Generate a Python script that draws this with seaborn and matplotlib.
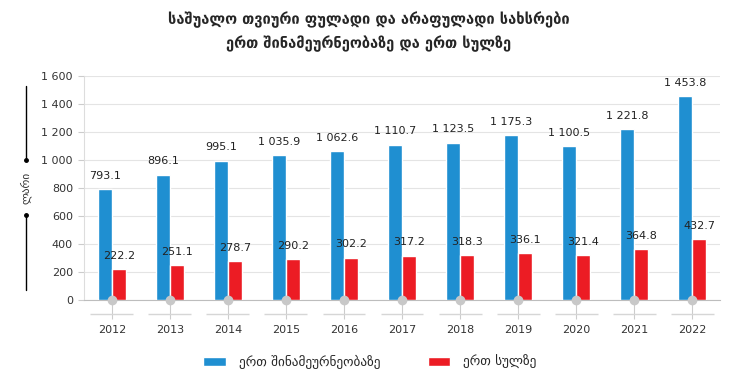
import pandas as pd
import seaborn as sns
import matplotlib.pyplot as plt
from matplotlib.lines import Line2D

years = ['2012', '2013', '2014', '2015', '2016', '2017', '2018', '2019', '2020', '2021', '2022']
per_household = [793.1, 896.1, 995.1, 1035.9, 1062.6, 1110.7, 1123.5, 1175.3, 1100.5, 1221.8, 1453.8]
per_capita = [222.2, 251.1, 278.7, 290.2, 302.2, 317.2, 318.3, 336.1, 321.4, 364.8, 432.7]
series_names = ['ერთ შინამეურნეობაზე', 'ერთ სულზე']
title = 'საშუალო თვიური ფულადი და არაფულადი სახსრები\nერთ შინამეურნეობაზე და ერთ სულზე'
y_label = 'ლარი'
y_ticks = [0, 200, 400, 600, 800, 1000, 1200, 1400, 1600]

df = pd.DataFrame({
    'year': years * 2,
    'value': per_household + per_capita,
    'series': [series_names[0]] * len(years) + [series_names[1]] * len(years),
})


def fmt(v, dec=1):
    s = f'{v:,.{dec}f}'
    return s.replace(',', ' ')


sns.set_style('white')
plt.rcParams['font.family'] = ['DejaVu Sans']

fig = plt.figure(figsize=(7.38, 3.81), dpi=100)
ax = fig.add_axes([84 / 738, 1 - 300 / 381, (720 - 84) / 738, 224 / 381])

colors = ['#1f8fd1', '#ec1c24']
sns.barplot(data=df, x='year', y='value', hue='series', palette=colors,
            width=0.48, saturation=1, ax=ax, zorder=3)

for i, cont in enumerate(ax.containers):
    ax.bar_label(cont, labels=[fmt(v) for v in cont.datavalues], padding=6,
                 fontsize=8, color='#222222')

ax.set_ylim(0, 1600)
ax.set_xlim(-0.48, len(years) - 0.52)
ax.set_yticks(y_ticks)
ax.set_yticklabels([fmt(t, 0) for t in y_ticks], fontsize=8, color='#333333')
ax.yaxis.grid(True, color='#e4e4e4', linewidth=0.8, zorder=0)
ax.set_axisbelow(True)
for s in ['top', 'right']:
    ax.spines[s].set_visible(False)
ax.spines['left'].set_color('#dddddd')
ax.spines['bottom'].set_color('#bdbdbd')
ax.tick_params(axis='y', length=4, color='#cccccc', pad=4, left=True)
ax.tick_params(axis='x', length=14, color='#cccccc', pad=4, labelsize=8,
               labelcolor='#333333', bottom=True)
ax.set_xlabel('')
ax.set_ylabel('')

# gray dots at the base of each category
ax.scatter(range(len(years)), [0] * len(years), s=36, color='#c8c8c8',
           zorder=5, clip_on=False)
ax.hlines([-0.0625] * len(years), [i - 0.37 for i in range(len(years))],
          [i + 0.37 for i in range(len(years))], transform=ax.get_xaxis_transform(),
          color='#d6d6d6', linewidth=1, clip_on=False)

# y label with arrow lines
fig.text(26 / 738, 1 - 188 / 381, y_label, rotation=90, ha='center', va='center',
         fontsize=8, color='#333333')
fig.add_artist(Line2D([26 / 738, 26 / 738], [1 - 86 / 381, 1 - 160 / 381],
                      color='black', linewidth=1))
fig.add_artist(Line2D([26 / 738], [1 - 160 / 381], marker='o', markersize=2.5, color='black'))
fig.add_artist(Line2D([26 / 738, 26 / 738], [1 - 215 / 381, 1 - 290 / 381],
                      color='black', linewidth=1))
fig.add_artist(Line2D([26 / 738], [1 - 215 / 381], marker='o', markersize=2.5, color='black'))

fig.text(0.5, 1 - 32 / 381, title, ha='center', va='center', fontsize=10.5,
         fontweight='bold', linespacing=1.55)

handles, labels = ax.get_legend_handles_labels()
ax.get_legend().remove()
fig.legend(handles, labels, loc='center', bbox_to_anchor=(370 / 738, 1 - 362 / 381),
           ncol=2, frameon=False, fontsize=9.5, handlelength=1.7, handleheight=0.75,
           columnspacing=3.6, handletextpad=1.0)

fig.savefig('out.png', dpi=100)
